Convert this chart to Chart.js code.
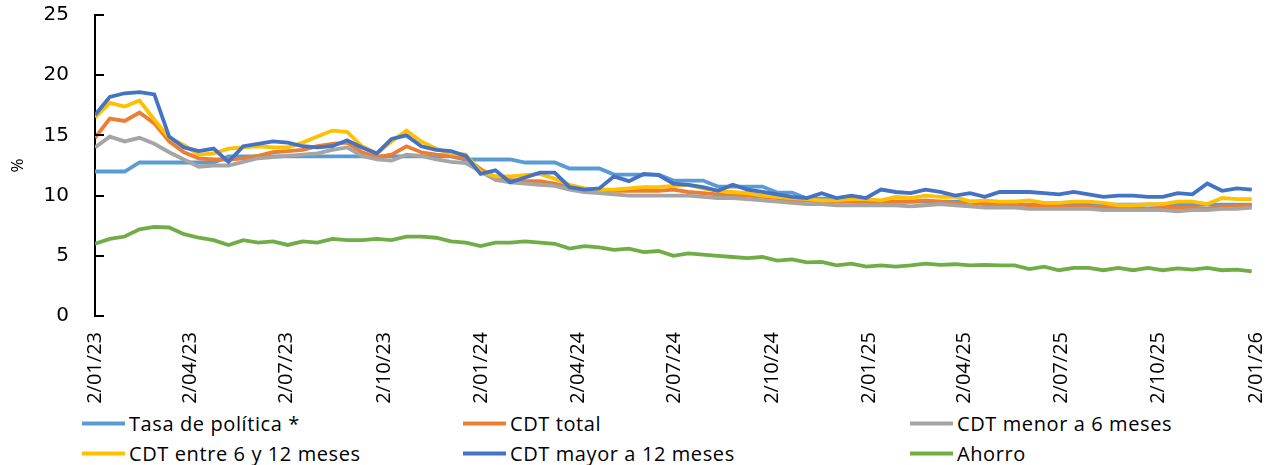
<!DOCTYPE html>
<html>
<head>
<meta charset="utf-8">
<script src="https://cdn.jsdelivr.net/npm/chart.js@4.4.1/dist/chart.umd.min.js"></script>
<style>
  html, body { margin: 0; padding: 0; background: #fff; }
  #wrap { position: relative; width: 1278px; height: 465px; overflow: hidden; }
  #grafico { position: absolute; left: 0; top: 0; }
  .leg { position: absolute; display: flex; align-items: center; font-family: "Open Sans", sans-serif;
         font-size: 20px; letter-spacing: 0.6px; color: #000; white-space: nowrap; transform: translateY(-50%); }
  .leg i { display: inline-block; width: 43px; height: 4px; margin-right: 4px; }
</style>
</head>
<body>
<div id="wrap">
  <canvas id="grafico" width="1278" height="405"></canvas>
  <div id="leyenda"></div>
</div>
<script>
// ------------------------------------------------------------
//  Tasas de interés semanales (muestreo cada 2 semanas)
// ------------------------------------------------------------

// primera fecha de la serie y paso del muestreo
const INICIO = "2023-01-02";
const PASO_DIAS = 14;

const ETIQUETAS_X = [
  "2/01/23", "2/04/23", "2/07/23", "2/10/23", "2/01/24", "2/04/24", "2/07/24",
  "2/10/24", "2/01/25", "2/04/25", "2/07/25", "2/10/25", "2/01/26",
];

const tasaPolitica = [
  12.0, 12.0, 12.0, 12.75, 12.75, 12.75, 12.75, 12.75, 12.75, 13.25,
  13.25, 13.25, 13.25, 13.25, 13.25, 13.25, 13.25, 13.25, 13.25, 13.25,
  13.25, 13.25, 13.25, 13.25, 13.25, 13.0, 13.0, 13.0, 13.0, 12.75,
  12.75, 12.75, 12.25, 12.25, 12.25, 11.75, 11.75, 11.75, 11.75, 11.25,
  11.25, 11.25, 10.75, 10.75, 10.75, 10.75, 10.25, 10.25, 9.75, 9.75,
  9.75, 9.75, 9.5, 9.5, 9.5, 9.5, 9.5, 9.5, 9.5, 9.5,
  9.5, 9.25, 9.25, 9.25, 9.25, 9.25, 9.25, 9.25, 9.25, 9.25,
  9.25, 9.25, 9.25, 9.25, 9.25, 9.25, 9.25, 9.25, 9.25,
];

const cdtTotal = [
  14.8, 16.4, 16.2, 16.9, 16.0, 14.5, 13.6, 13.1, 13.0, 13.0,
  13.1, 13.3, 13.6, 13.7, 13.8, 14.1, 14.3, 14.4, 13.6, 13.2,
  13.4, 14.1, 13.6, 13.4, 13.3, 13.1, 12.2, 11.5, 11.3, 11.2,
  11.2, 11.0, 10.7, 10.5, 10.4, 10.4, 10.4, 10.4, 10.4, 10.5,
  10.3, 10.2, 10.1, 10.0, 10.0, 9.9, 9.8, 9.6, 9.6, 9.5,
  9.5, 9.5, 9.4, 9.5, 9.5, 9.5, 9.6, 9.5, 9.4, 9.4,
  9.3, 9.3, 9.3, 9.2, 9.2, 9.1, 9.1, 9.1, 9.0, 9.0,
  9.0, 8.9, 9.0, 9.0, 9.0, 8.9, 9.1, 9.1, 9.2,
];

const cdtMenor6 = [
  14.0, 14.9, 14.5, 14.8, 14.3, 13.6, 13.0, 12.4, 12.5, 12.5,
  12.8, 13.1, 13.2, 13.3, 13.4, 13.5, 13.8, 14.0, 13.3, 13.0,
  12.9, 13.4, 13.3, 13.0, 12.8, 12.7, 12.0, 11.3, 11.1, 11.0,
  10.9, 10.8, 10.5, 10.3, 10.2, 10.1, 10.0, 10.0, 10.0, 10.0,
  10.0, 9.9, 9.8, 9.8, 9.7, 9.6, 9.5, 9.4, 9.3, 9.3,
  9.2, 9.2, 9.2, 9.2, 9.2, 9.1, 9.2, 9.3, 9.2, 9.1,
  9.0, 9.0, 9.0, 8.9, 8.9, 8.9, 8.9, 8.9, 8.8, 8.8,
  8.8, 8.8, 8.8, 8.7, 8.8, 8.8, 8.9, 8.9, 9.0,
];

const cdt6a12 = [
  16.5, 17.7, 17.4, 17.9, 16.3, 14.8, 14.2, 13.4, 13.5, 13.9,
  14.0, 14.1, 14.0, 14.0, 14.4, 14.9, 15.4, 15.3, 14.1, 13.5,
  14.5, 15.4, 14.5, 13.9, 13.5, 13.4, 12.0, 11.6, 11.6, 11.7,
  11.8, 11.4, 10.9, 10.6, 10.5, 10.5, 10.6, 10.7, 10.7, 10.8,
  10.9, 10.6, 10.4, 10.3, 10.2, 10.0, 9.9, 9.8, 9.7, 9.6,
  9.6, 9.7, 9.7, 9.6, 9.9, 9.8, 10.0, 9.9, 9.9, 9.5,
  9.6, 9.5, 9.5, 9.6, 9.4, 9.4, 9.5, 9.5, 9.4, 9.2,
  9.2, 9.3, 9.3, 9.5, 9.5, 9.3, 9.8, 9.7, 9.7,
];

const cdtMayor12 = [
  16.7, 18.2, 18.5, 18.6, 18.4, 14.9, 14.0, 13.7, 13.9, 12.8,
  14.1, 14.3, 14.5, 14.4, 14.1, 14.0, 14.1, 14.6, 14.0, 13.5,
  14.7, 15.0, 14.1, 13.8, 13.7, 13.3, 11.8, 12.1, 11.1, 11.5,
  11.9, 11.9, 10.7, 10.5, 10.6, 11.6, 11.2, 11.8, 11.7, 11.0,
  10.9, 10.7, 10.4, 10.9, 10.5, 10.3, 10.1, 9.9, 9.8, 10.2,
  9.8, 10.0, 9.8, 10.5, 10.3, 10.2, 10.5, 10.3, 10.0, 10.2,
  9.9, 10.3, 10.3, 10.3, 10.2, 10.1, 10.3, 10.1, 9.9, 10.0,
  10.0, 9.9, 9.9, 10.2, 10.1, 11.0, 10.4, 10.6, 10.5,
];

const ahorro = [
  6.0, 6.4, 6.6, 7.2, 7.4, 7.35, 6.8, 6.5, 6.3, 5.9,
  6.3, 6.1, 6.2, 5.9, 6.2, 6.1, 6.4, 6.3, 6.3, 6.4,
  6.3, 6.6, 6.6, 6.5, 6.2, 6.1, 5.8, 6.1, 6.1, 6.2,
  6.1, 6.0, 5.6, 5.8, 5.7, 5.5, 5.6, 5.3, 5.4, 5.0,
  5.2, 5.1, 5.0, 4.9, 4.8, 4.9, 4.6, 4.7, 4.45, 4.5,
  4.2, 4.35, 4.1, 4.2, 4.1, 4.2, 4.35, 4.25, 4.3, 4.2,
  4.25, 4.2, 4.2, 3.9, 4.1, 3.8, 4.0, 4.0, 3.8, 4.0,
  3.8, 4.0, 3.8, 3.95, 3.85, 4.0, 3.8, 3.85, 3.7,
];

const SERIES = [
  { nombre: "Tasa de política *",      datos: tasaPolitica, color: "#5B9BD5" },
  { nombre: "CDT total",               datos: cdtTotal,     color: "#ED7D31" },
  { nombre: "CDT menor a 6 meses",     datos: cdtMenor6,    color: "#A5A5A5" },
  { nombre: "CDT entre 6 y 12 meses",  datos: cdt6a12,      color: "#FFC000" },
  { nombre: "CDT mayor a 12 meses",    datos: cdtMayor12,   color: "#4472C4" },
  { nombre: "Ahorro",                  datos: ahorro,       color: "#70AD47" },
];

// ---- fechas -> días desde el inicio
const MS_DIA = 86400000;
const t0 = Date.parse(INICIO + "T00:00:00Z");

function diasDesdeEtiqueta(txt) {
  const [d, m, a] = txt.split("/").map(Number);
  return Math.round((Date.UTC(2000 + a, m - 1, d) - t0) / MS_DIA);
}

const TICKS_X = ETIQUETAS_X.map(diasDesdeEtiqueta);
const diaDe = (i) => i * PASO_DIAS;

// marcas del eje Y hacia dentro del gráfico
const marcasInternas = {
  id: "marcasInternas",
  afterDraw(chart) {
    const { ctx, scales: { y }, chartArea } = chart;
    ctx.save();
    ctx.strokeStyle = "#000";
    ctx.lineWidth = 2;
    y.ticks.forEach((t) => {
      const py = Math.round(y.getPixelForValue(t.value));
      ctx.beginPath();
      ctx.moveTo(chartArea.left, py);
      ctx.lineTo(chartArea.left + 9, py);
      ctx.stroke();
    });
    ctx.restore();
  },
};

new Chart(document.getElementById("grafico"), {
  type: "line",
  data: {
    datasets: SERIES.map((s, i) => ({
      label: s.nombre,
      data: s.datos.map((v, k) => ({ x: diaDe(k), y: v })),
      borderColor: s.color,
      backgroundColor: s.color,
      borderWidth: 3.8,
      pointRadius: 0,
      tension: 0,
      fill: false,
      order: SERIES.length - i,
    })),
  },
  options: {
    responsive: false,
    animation: false,
    devicePixelRatio: 1,
    layout: { padding: { top: 15, right: 22, left: 0, bottom: 0 } },
    plugins: { legend: { display: false }, tooltip: { enabled: false } },
    scales: {
      x: {
        type: "linear",
        min: 0,
        max: TICKS_X[TICKS_X.length - 1],
        afterBuildTicks: (s) => { s.ticks = TICKS_X.map((v) => ({ value: v })); },
        afterFit: (s) => { s.height = 89; s.paddingLeft = 0; s.paddingRight = 0; },
        ticks: {
          autoSkip: false,
          minRotation: 90,
          maxRotation: 90,
          padding: 8,
          color: "#000",
          font: { family: "Open Sans", size: 20 },
          callback: (v) => ETIQUETAS_X[TICKS_X.indexOf(v)] ?? "",
        },
        grid: { display: false },
        border: { display: false },
      },
      y: {
        min: 0,
        max: 25,
        afterFit: (s) => { s.width = 95; s.paddingTop = 0; s.paddingBottom = 0; },
        ticks: {
          stepSize: 5,
          padding: 18,
          color: "#000",
          font: { family: "DejaVu Sans", size: 20 },
        },
        grid: { display: false },
        border: { display: true, color: "#000", width: 2 },
        title: {
          display: true,
          text: "%",
          color: "#000",
          font: { family: "Open Sans", size: 17 },
          padding: { top: 8, bottom: 0 },
        },
      },
    },
  },
  plugins: [marcasInternas],
});

// ---- leyenda (3 columnas x 2 filas)
const COLS_X = [82, 463, 910];
const FILAS_Y = [423, 453];
const leyenda = document.getElementById("leyenda");
SERIES.forEach((s, i) => {
  const el = document.createElement("div");
  el.className = "leg";
  el.style.left = COLS_X[i % 3] + "px";
  el.style.top = FILAS_Y[Math.floor(i / 3)] + "px";
  el.innerHTML = `<i style="background:${s.color}"></i>${s.nombre}`;
  leyenda.appendChild(el);
});
</script>
</body>
</html>
